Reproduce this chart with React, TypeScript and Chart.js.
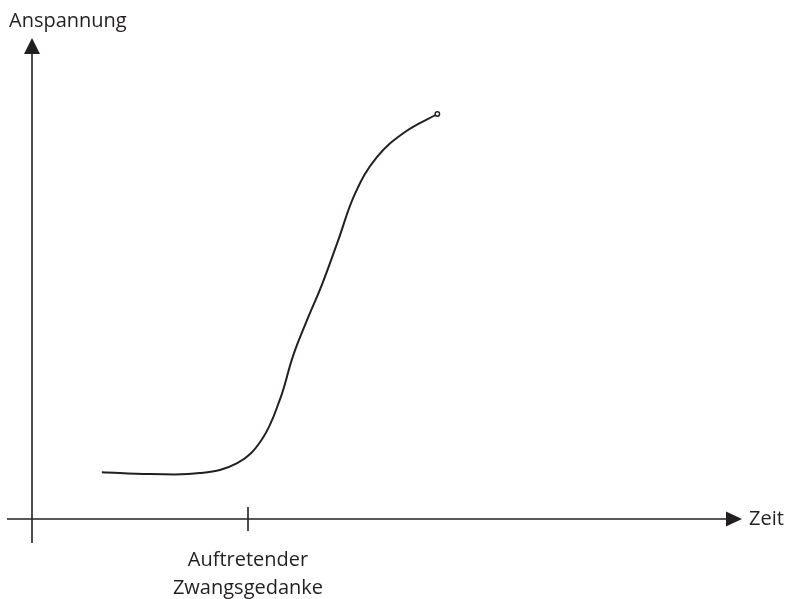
import React, { useEffect, useRef } from "react";
import { Chart, registerables } from "chart.js";

Chart.register(...registerables);

// Zeit (time) and Anspannung (tension) values
const zeit = [0.97, 1.64, 2.33, 2.85, 3.19, 3.44, 3.625, 3.81, 4.03, 4.25, 4.49, 4.79, 5.18, 5.63];
const anspannung = [1.04, 1.0, 1.02, 1.24, 1.76, 2.64, 3.62, 4.38, 5.22, 6.18, 7.24, 8.04, 8.6, 9.0];
const xAxisLabel = "Zeit";
const yAxisLabel = "Anspannung";
const eventTime = [3];
const eventLabel = ["Auftretender", "Zwangsgedanke"];

const INK = "#231f20";
const FONT = '20px "Open Sans"';

const sketchAxes = {
  id: "sketchAxes",
  beforeDatasetsDraw(chart: any) {
    const { ctx, chartArea, scales } = chart;
    const x0 = scales.x.getPixelForValue(0);
    const y0 = scales.y.getPixelForValue(0);
    ctx.save();
    ctx.strokeStyle = INK;
    ctx.fillStyle = INK;
    ctx.lineWidth = 1.6;
    // y axis
    ctx.beginPath();
    ctx.moveTo(x0, chartArea.bottom);
    ctx.lineTo(x0, chartArea.top + 14);
    ctx.stroke();
    ctx.beginPath();
    ctx.moveTo(x0, chartArea.top);
    ctx.lineTo(x0 - 8, chartArea.top + 16);
    ctx.lineTo(x0 + 8, chartArea.top + 16);
    ctx.closePath();
    ctx.fill();
    // x axis
    ctx.beginPath();
    ctx.moveTo(chartArea.left, y0);
    ctx.lineTo(chartArea.right - 14, y0);
    ctx.stroke();
    ctx.beginPath();
    ctx.moveTo(chartArea.right, y0);
    ctx.lineTo(chartArea.right - 16, y0 - 7.5);
    ctx.lineTo(chartArea.right - 16, y0 + 7.5);
    ctx.closePath();
    ctx.fill();
    // event tick
    eventTime.forEach((t) => {
      const xp = scales.x.getPixelForValue(t);
      ctx.beginPath();
      ctx.moveTo(xp, y0 - 12);
      ctx.lineTo(xp, y0 + 12);
      ctx.stroke();
      ctx.font = FONT;
      ctx.textAlign = "center";
      ctx.textBaseline = "alphabetic";
      eventLabel.forEach((line, i) => {
        ctx.fillText(line, xp, y0 + 47 + i * 28);
      });
    });
    // axis labels
    ctx.font = FONT;
    ctx.textAlign = "left";
    ctx.textBaseline = "alphabetic";
    ctx.fillText(yAxisLabel, 9, chartArea.top - 11);
    ctx.textBaseline = "middle";
    ctx.fillText(xAxisLabel, chartArea.right + 7, y0 + 0.5);
    ctx.restore();
  },
};

export default function App() {
  const ref = useRef<HTMLCanvasElement | null>(null);
  useEffect(() => {
    if (!ref.current) return;
    const chart = new Chart(ref.current, {
      type: "scatter",
      data: {
        datasets: [
          {
            data: zeit.map((t, i) => ({ x: t, y: anspannung[i] })),
            showLine: true,
            borderColor: INK,
            borderWidth: 2,
            tension: 0.4,
            pointRadius: zeit.map((_, i) => (i === zeit.length - 1 ? 2.2 : 0)),
            pointBackgroundColor: "#ffffff",
            pointBorderColor: INK,
            pointBorderWidth: 1.5,
          },
        ],
      },
      options: {
        animation: false,
        responsive: false,
        devicePixelRatio: 1,
        layout: { padding: { left: 7, right: 45, top: 38, bottom: 56 } },
        plugins: { legend: { display: false }, tooltip: { enabled: false } },
        scales: {
          x: { type: "linear", display: false, min: -25 / 72, max: 710 / 72 },
          y: { type: "linear", display: false, min: -24 / 45, max: 481 / 45 },
        },
      },
      plugins: [sketchAxes],
    });
    return () => chart.destroy();
  }, []);
  return (
    <div style={{ position: "absolute", left: 0, top: 0, width: 787, height: 599, background: "#fff" }}>
      <canvas ref={ref} width={787} height={599} style={{ display: "block" }} />
    </div>
  );
}
